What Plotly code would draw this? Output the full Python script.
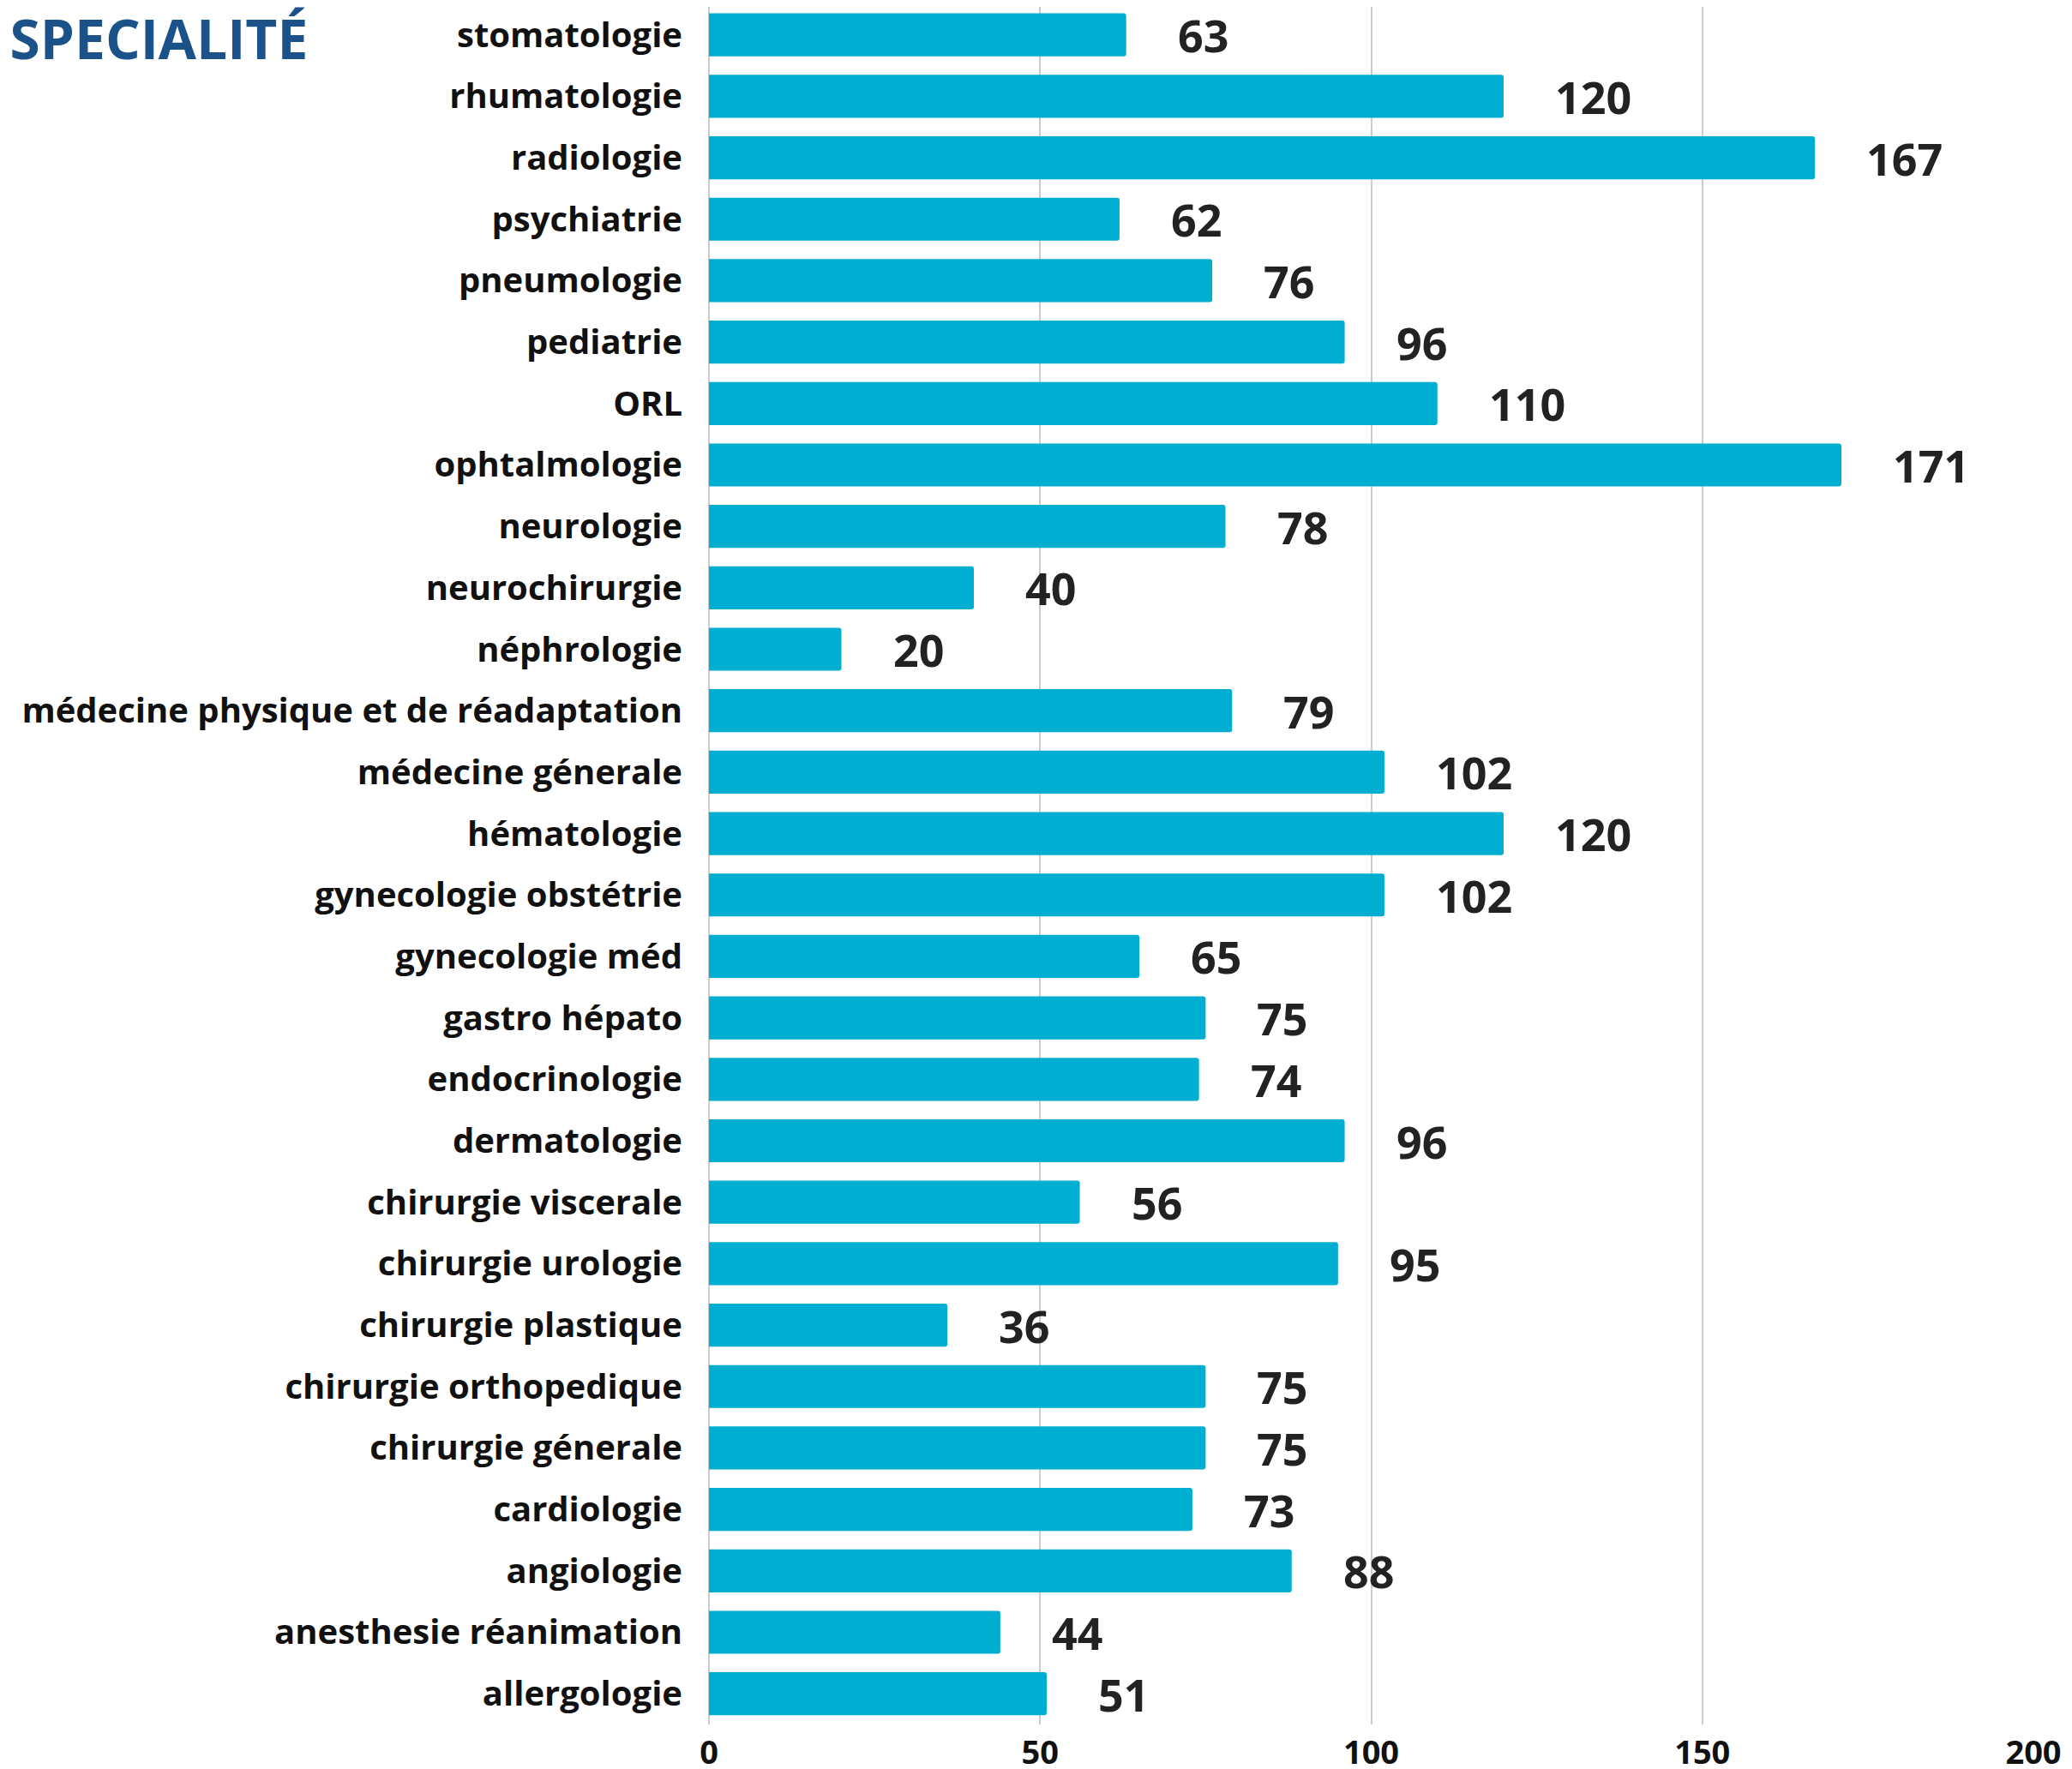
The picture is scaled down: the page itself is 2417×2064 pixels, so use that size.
import plotly.graph_objects as go

categories = [
    "stomatologie", "rhumatologie", "radiologie", "psychiatrie", "pneumologie",
    "pediatrie", "ORL", "ophtalmologie", "neurologie", "neurochirurgie",
    "néphrologie", "médecine physique et de réadaptation", "médecine génerale",
    "hématologie", "gynecologie obstétrie", "gynecologie méd", "gastro hépato",
    "endocrinologie", "dermatologie", "chirurgie viscerale", "chirurgie urologie",
    "chirurgie plastique", "chirurgie orthopedique", "chirurgie génerale",
    "cardiologie", "angiologie", "anesthesie réanimation", "allergologie",
]
values = [63, 120, 167, 62, 76, 96, 110, 171, 78, 40, 20, 79, 102, 120, 102,
          65, 75, 74, 96, 56, 95, 36, 75, 75, 73, 88, 44, 51]
x_ticks = [0, 50, 100, 150, 200]
title_text = "SPECIALITÉ"

FONT = "Open Sans"
BAR = "#00aed1"

fig = go.Figure()
fig.add_trace(go.Bar(
    x=values, y=categories, orientation="h",
    marker=dict(color=BAR, cornerradius=3, line=dict(width=0)),
    width=0.7, hoverinfo="x+y",
))

for c, v in zip(categories, values):
    fig.add_annotation(
        x=v, y=c, xref="x", yref="y", text=str(v), showarrow=False,
        xanchor="left", yanchor="middle", xshift=58,
        font=dict(family=FONT, size=52, color="#222222", weight=700),
    )

# page body has an 8px margin, so the figure is sized to fit the window
fig.update_layout(
    width=2409, height=2056,
    margin=dict(l=819, r=45, t=0, b=52),
    paper_bgcolor="white", plot_bgcolor="white",
    showlegend=False,
    title=dict(
        text=title_text, xref="container", yref="container",
        x=0.0015, xanchor="left", y=0.992, yanchor="top",
        font=dict(family=FONT, size=64, color="#1a5289", weight=700),
    ),
    xaxis=dict(
        range=[0, 200], tickvals=x_ticks, showgrid=True, gridcolor="#cccccc",
        gridwidth=2, zeroline=True, zerolinecolor="#cccccc", zerolinewidth=2,
        showline=False, ticks="", ticklabelstandoff=7, automargin=False,
        tickfont=dict(family=FONT, size=38, color="#111111", weight=700),
    ),
    yaxis=dict(
        range=[27.5, -0.456], showgrid=False, ticks="", showline=False,
        ticklabelstandoff=30, automargin=False,
        tickfont=dict(family=FONT, size=40, color="#111111", weight=700),
    ),
    bargap=0.3,
)

fig.write_html("out.html")
